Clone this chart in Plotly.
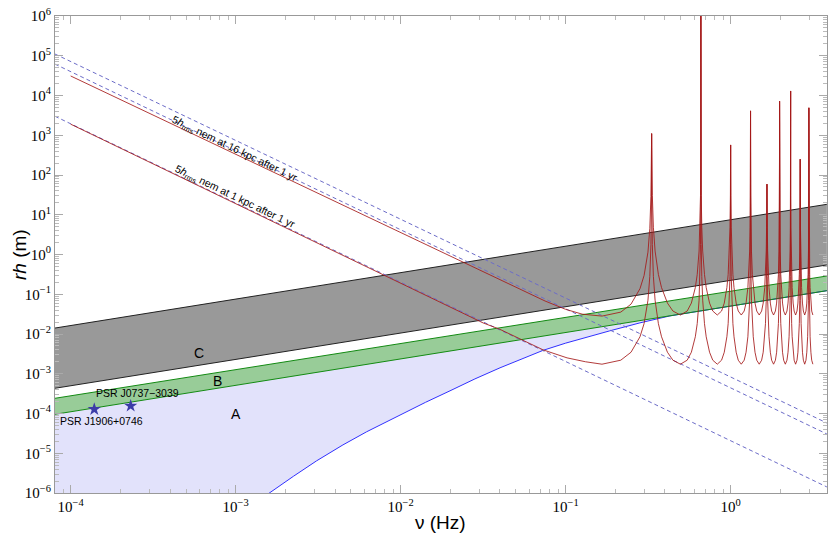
import plotly.graph_objects as go

# ---------------- data ----------------
# frame limits of the plot (Hz)
NU_LO, NU_HI = 8.03e-5, 3.83

# straight bands (values at left and right frame edge)
band_nu = [8.03e-5, 3.83]
c_top = [1.41e-2, 18.3]
c_bot = [4.31e-4, 0.545]
b_top = [2.41e-4, 0.288]
b_bot = [9.55e-5, 0.123]

# lower boundary of region A (blue curve)
a_nu = [1.259e-3, 1.570e-3, 2.239e-3, 3.097e-3, 4.467e-3, 6.22e-3, 9.91e-3,
        1.413e-2, 1.991e-2, 2.818e-2, 4.0e-2, 5.5e-2, 7.31e-2, 0.1, 0.128,
        0.185, 0.282, 0.4285, 1.0, 3.83]
a_h = [5.0e-7, 9.5e-7, 2.63e-6, 6.46e-6, 1.62e-5, 3.47e-5, 9.33e-5,
       1.905e-4, 3.72e-4, 7.41e-4, 1.41e-3, 2.45e-3, 3.89e-3, 5.89e-3, 7.94e-3,
       1.20e-2, 1.905e-2, 2.85e-2, 5.04e-2, 0.123]

# dashed lines (left / right frame edge)
dash_nu = [8.03e-5, 3.83]
dash_top = [1.107e5, 5.77e-5]
dash_mid = [6.17e4, 3.05e-5]
dash_bot = [3.01e3, 1.42e-6]

# red curves: low-frequency branches
red16_lo_nu = [1e-4, 1e-3, 1e-2, 0.024, 0.05, 0.075, 0.1, 0.126, 0.166]
red16_lo_h = [3.1e4, 331, 3.55, 0.63, 0.148, 0.0676, 0.0417, 0.0316, 0.0282]
red1_lo_nu = [1e-4, 1e-3, 1e-2, 0.0316, 0.0398, 0.055, 0.0731, 0.102, 0.132, 0.166]
red1_lo_h = [1.9e3, 19.0, 0.19, 0.019, 0.0132, 7.08e-3, 3.98e-3, 2.51e-3, 2.0e-3, 1.74e-3]

# resonances
peak_nu = [0.332, 0.66, 1.0, 1.32, 1.66, 1.98, 2.31, 2.64, 2.98]
peak_h = [1.1e3, 1.5e6, 5.7e2, 4.1e3, 59, 7.2e3, 1.3e4, 2.5e2, 4.9e3]
trough16 = 0.030
trough1 = 1.74e-3
end_nu = 3.15
# arm shape of each U: fraction of the way trough->peak, factor above trough
arm_frac = [0.3, 0.5, 0.7, 0.8, 0.9, 0.95, 0.98, 0.995]
arm_rise = [1.26, 2.0, 4.9, 10.5, 40.7, 162, 1020, 1.6e4]

# pulsars
psr_nu = [1.39e-4, 2.31e-4]
psr_h = [1.28e-4, 1.55e-4]
psr_names = ["PSR J1906+0746", "PSR J0737\u22123039"]


def resonant_curve(lo_nu, lo_h, trough):
    xs, ys = list(lo_nu), list(lo_h)
    prev_t, prev_th = lo_nu[-1], lo_h[-1]
    for i, (pn, ph) in enumerate(zip(peak_nu, peak_h)):
        for f, r in zip(arm_frac, arm_rise):
            h = prev_th * r
            if h < ph:
                xs.append(prev_t + f * (pn - prev_t))
                ys.append(h)
        xs.append(pn)
        ys.append(ph)
        nt = (pn + peak_nu[i + 1]) / 2 if i + 1 < len(peak_nu) else end_nu
        for f, r in reversed(list(zip(arm_frac, arm_rise))):
            h = trough * r
            if h < ph:
                xs.append(nt - f * (nt - pn))
                ys.append(h)
        xs.append(nt)
        ys.append(trough)
        prev_t, prev_th = nt, trough
    return xs, ys


fig = go.Figure()

# region A fill
fig.add_trace(go.Scatter(
    x=band_nu + a_nu[::-1] + [NU_LO],
    y=b_bot + a_h[::-1] + [a_h[0]],
    fill="toself", fillcolor="#e2e2fb", mode="none", hoverinfo="skip"))
# region C fill
fig.add_trace(go.Scatter(
    x=band_nu + band_nu[::-1], y=c_top + c_bot[::-1],
    fill="toself", fillcolor="#999999", mode="none", hoverinfo="skip"))
# region B fill
fig.add_trace(go.Scatter(
    x=band_nu + band_nu[::-1], y=b_top + b_bot[::-1],
    fill="toself", fillcolor="#98cc98", mode="none", hoverinfo="skip"))

# blue boundary
fig.add_trace(go.Scatter(x=a_nu, y=a_h, mode="lines",
                         line=dict(color="#3030ff", width=1)))
# band borders
for yy, col in [(c_top, "#222222"), (c_bot, "#222222"),
                (b_top, "#138a13"), (b_bot, "#138a13")]:
    fig.add_trace(go.Scatter(x=band_nu, y=yy, mode="lines",
                             line=dict(color=col, width=1)))

# dashed lines
for yy in [dash_top, dash_mid, dash_bot]:
    fig.add_trace(go.Scatter(x=dash_nu, y=yy, mode="lines",
                             line=dict(color="#6c6cc8", width=1, dash="4px,3px")))

# red resonant curves
for lo_nu, lo_h, tr in [(red16_lo_nu, red16_lo_h, trough16),
                        (red1_lo_nu, red1_lo_h, trough1)]:
    xs, ys = resonant_curve(lo_nu, lo_h, tr)
    fig.add_trace(go.Scatter(x=xs, y=ys, mode="lines",
                             line=dict(color="rgba(165,25,25,0.85)", width=1)))

# pulsars
fig.add_trace(go.Scatter(x=psr_nu, y=psr_h, mode="markers",
                         marker=dict(symbol="star", size=10, color="#3c3ca8",
                                     line=dict(width=0))))

sans = "Liberation Sans, Arial, sans-serif"
serif = "Liberation Serif, Times New Roman, serif"

ann = []
ann.append(dict(x=-3.007, y=2.662, text="5<i>h</i><sub>rms</sub> nem at 16 kpc after 1 yr",
                textangle=25.7, showarrow=False, font=dict(family=sans, size=10.5, color="black")))
ann.append(dict(x=-3.005, y=1.447, text="5<i>h</i><sub>rms</sub> nem at 1 kpc after 1 yr",
                textangle=25.7, showarrow=False, font=dict(family=sans, size=10.5, color="black")))
for t, lx, ly in [("C", -3.221, -2.486), ("B", -3.109, -3.175), ("A", -3.0, -4.02)]:
    ann.append(dict(x=lx, y=ly, text=t, showarrow=False,
                    font=dict(family=sans, size=14, color="black")))
ann.append(dict(x=-3.815, y=-4.18, text=psr_names[0], showarrow=False,
                font=dict(family=sans, size=10.5, color="black")))
ann.append(dict(x=-3.595, y=-3.49, text=psr_names[1], showarrow=False,
                font=dict(family=sans, size=10.5, color="black")))
# axis titles
ann.append(dict(xref="paper", yref="paper", x=(440 - 55) / 772, y=(493 - 522) / 477,
                text="\u03bd (Hz)", showarrow=False, yanchor="middle",
                font=dict(family=sans, size=19, color="black")))
ann.append(dict(xref="paper", yref="paper", x=(20 - 55) / 772, y=(493 - 255) / 477,
                text="<i>rh</i> (m)", showarrow=False, textangle=-90, xanchor="center",
                yanchor="middle", font=dict(family=sans, size=19, color="black")))

xt = [1e-4, 1e-3, 1e-2, 1e-1, 1]
xtt = ["10<sup>\u22124</sup>", "10<sup>\u22123</sup>", "10<sup>\u22122</sup>",
       "10<sup>\u22121</sup>", "10<sup>0</sup>"]
yt = [10.0 ** k for k in range(-6, 7)]
ytt = ["10<sup>%s</sup>" % (("\u2212%d" % -k) if k < 0 else str(k)) for k in range(-6, 7)]

xminor = [m * 10.0 ** k for k in range(-5, 1) for m in range(2, 10)]
yminor = [m * 10.0 ** k for k in range(-7, 6) for m in range(2, 10)]

axis_common = dict(type="log", showgrid=False, zeroline=False, showline=True,
                   linecolor="#999999", linewidth=1, mirror="allticks",
                   ticks="inside", ticklen=8, tickcolor="#aaaaaa", tickwidth=1,
                   automargin=False, ticklabeloverflow="allow",
                   tickfont=dict(family=serif, size=15, color="black"))

fig.update_layout(
    width=830, height=539,
    margin=dict(l=55, r=3, t=16, b=46),
    paper_bgcolor="white", plot_bgcolor="white",
    showlegend=False,
    annotations=ann,
    xaxis=dict(range=[-4.095, 0.584], tickmode="array", tickvals=xt, ticktext=xtt,
               minor=dict(tickmode="array", tickvals=xminor, ticks="inside",
                          ticklen=4, tickcolor="#bbbbbb"),
               **axis_common),
    yaxis=dict(range=[-6, 6], tickmode="array", tickvals=yt, ticktext=ytt,
               minor=dict(tickmode="array", tickvals=yminor, ticks="inside",
                          ticklen=4, tickcolor="#bbbbbb"),
               **axis_common),
)

# remove the default 8px page margin so the figure sits at the window origin
fig.write_html("out.html", config={"displayModeBar": False},
               post_script="document.body.style.margin='0';")
